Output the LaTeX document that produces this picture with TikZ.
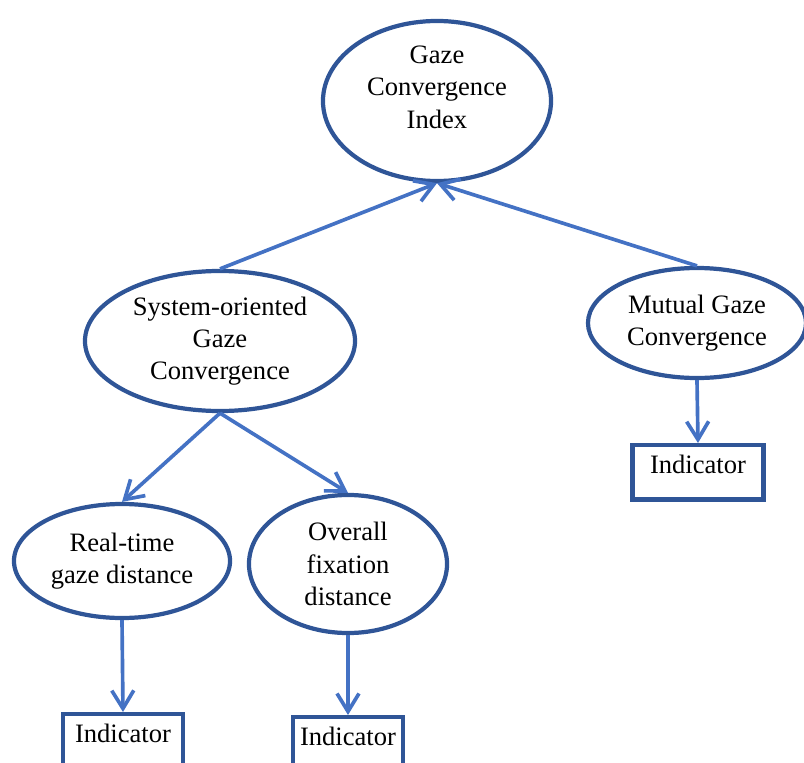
\documentclass[tikz,border=0pt]{standalone}
\usepackage{fontspec}
\setmainfont{Liberation Serif}
\usepackage{tikz}
\usetikzlibrary{arrows.meta,positioning,shapes.geometric}

\definecolor{rimblue}{HTML}{2F5597}
\definecolor{linkblue}{HTML}{4472C4}

\tikzset{
  bubble/.style={ellipse,draw=rimblue,line width=3pt,inner sep=0pt,align=center},
  indbox/.style={rectangle,draw=rimblue,line width=3pt,inner sep=0pt,anchor=north,text height=0.71cm},
  link/.style={draw=linkblue,line width=2.6pt,-{Straight Barb[length=4.5mm,width=5.5mm]}},
}

\begin{document}
\begin{tikzpicture}[x=0.025cm,y=-0.025cm,font=\fontsize{18.9}{23}\selectfont]
  \useasboundingbox (0,0) rectangle (804,763);
  % top level
  \node[bubble,minimum width=5.7cm,minimum height=4cm] (gci) at (437,101) {};
  \node[align=center] (gcitext) at (437,87) {Gaze\\Convergence\\Index};
  % second level
  \node[bubble,minimum width=6.75cm,minimum height=3.5cm] (sys) at (220,341) {System-oriented\\Gaze\\Convergence};
  \node[bubble,minimum width=5.45cm,minimum height=2.75cm] (mut) at (697,323) {Mutual Gaze\\Convergence};
  % sub-measures of the system-oriented part
  \node[bubble,minimum width=5.4cm,minimum height=2.85cm] (rtd) at (122,561) {Real-time\\gaze distance};
  \node[bubble,minimum width=4.95cm,minimum height=3.45cm] (ofd) at (348,564) {Overall\\fixation\\distance};
  % indicators (the lower two run off the page)
  \node[indbox,minimum width=3cm,text depth=1cm] (indrtd) at (123,712) {Indicator};
  \node[indbox,minimum width=2.75cm,text depth=1cm] (indofd) at (348,715) {Indicator};
  \node[indbox,minimum width=3.275cm,text depth=0.65cm] (indmut) at (698,443) {Indicator};

  \draw[link] (sys.north) -- (gci.south);
  \draw[link] (mut.north) -- (gci.south);
  \draw[link] (sys.south) -- (rtd.north);
  \draw[link] (sys.south) -- (ofd.north);
  \draw[link] (rtd.south) -- (indrtd.north);
  \draw[link] (ofd.south) -- (indofd.north);
  \draw[link] (mut.south) -- (indmut.north);
\end{tikzpicture}
\end{document}
